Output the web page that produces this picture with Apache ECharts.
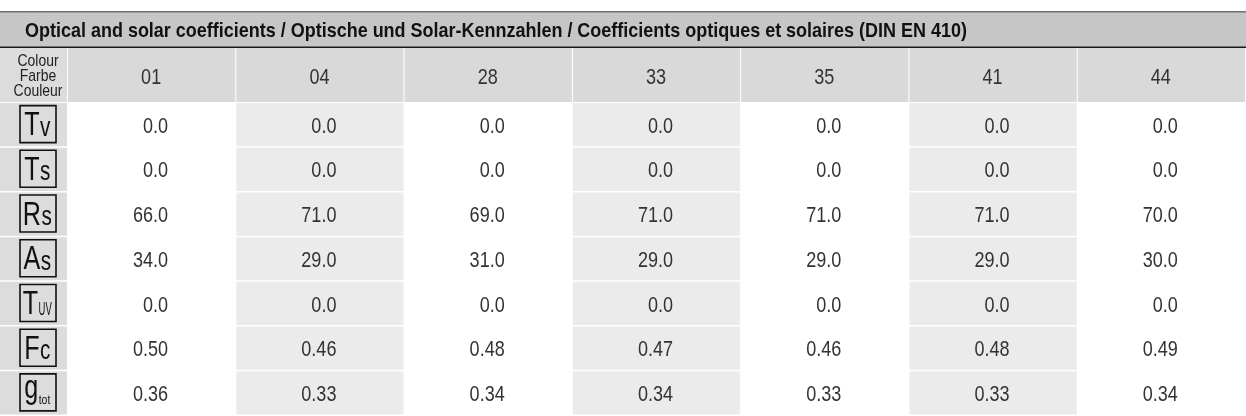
<!DOCTYPE html>
<html><head><meta charset="utf-8">
<script src="https://cdn.jsdelivr.net/npm/echarts@6/dist/echarts.min.js"></script>
<style>html,body{margin:0;padding:0;background:#fff}#c{width:1246px;height:416px}</style>
</head><body><div id="c"></div>
<script>
// ---- data ----
const titleText = 'Optical and solar coefficients / Optische und Solar-Kennzahlen / Coefficients optiques et solaires (DIN EN 410)';
const cornerLabel = 'Colour\nFarbe\nCouleur';
const colours = ['01', '04', '28', '33', '35', '41', '44'];
const symbolMain = ['T', 'T', 'R', 'A', 'T', 'F', 'g'];
const symbolSub = ['v', 's', 's', 's', 'UV', 'c', 'tot'];
const decimals = [1, 1, 1, 1, 1, 2, 2];
const rowTv = [0.0, 0.0, 0.0, 0.0, 0.0, 0.0, 0.0];
const rowTs = [0.0, 0.0, 0.0, 0.0, 0.0, 0.0, 0.0];
const rowRs = [66.0, 71.0, 69.0, 71.0, 71.0, 71.0, 70.0];
const rowAs = [34.0, 29.0, 31.0, 29.0, 29.0, 29.0, 30.0];
const rowTuv = [0.0, 0.0, 0.0, 0.0, 0.0, 0.0, 0.0];
const rowFc = [0.50, 0.46, 0.48, 0.47, 0.46, 0.48, 0.49];
const rowGtot = [0.36, 0.33, 0.34, 0.34, 0.33, 0.33, 0.34];
const rows = [rowTv, rowTs, rowRs, rowAs, rowTuv, rowFc, rowGtot];

// ---- styles ----
const FONT = "'Liberation Sans',Arial,sans-serif";
const NARROW = 0.82;      // horizontal squeeze to imitate a condensed face
const SYM_NARROW = 0.74;
const K = 0.346;
const mctx = document.createElement('canvas').getContext('2d');
function textWidth(t, size, weight) { mctx.font = (weight || 'normal') + ' ' + size + 'px ' + FONT; return mctx.measureText(t).width; }
const mainSize = 34;
const subSizes = { v: 28, s: 28, UV: 19, c: 28, tot: 13 };
const subScale = { v: 0.74, s: 0.74, UV: 0.5, c: 0.74, tot: 0.8 };

const rowIdx = rows.map((_, i) => String(i));
const bodyData = [];
rows.forEach((r, ri) => r.forEach((v, ci) => bodyData.push([ci, ri, v])));

function hidden(type, gi, data, inverse) {
  return { type: type, gridIndex: gi, data: data, show: false, inverse: !!inverse };
}
function narrowText(x, y, sx, style) {
  return { type: 'text', x: x, y: y, scaleX: sx, style: Object.assign({ x: 0, y: 0, fontFamily: FONT }, style) };
}

const option = {
  animation: false,
  backgroundColor: '#fff',
  graphic: [
    { type: 'rect', left: 0, top: 12, z: 0, silent: true, shape: { width: 1246, height: 36 }, style: { fill: '#c6c6c6' } },
    { type: 'rect', left: 0, top: 11, z: 1, silent: true, shape: { width: 1246, height: 1.5 }, style: { fill: '#6f6f6f' } },
    { type: 'rect', left: 0, top: 46.5, z: 1, silent: true, shape: { width: 1246, height: 1.5 }, style: { fill: '#1a1a1a' } },
    { type: 'text', x: 25, y: 31, scaleX: 0.856, z: 2, silent: true,
      style: { text: titleText, x: 0, y: 0, align: 'left', verticalAlign: 'middle', fontFamily: FONT, fontSize: 21, fontWeight: 'bold', fill: '#111' } }
  ],
  grid: [
    { left: 0, top: 48, width: 68, height: 55 },
    { left: 68, top: 48, width: 1178, height: 55 },
    { left: 0, top: 103, width: 68, height: 315 },
    { left: 68, top: 103, width: 1178, height: 315 }
  ],
  xAxis: [
    hidden('category', 0, ['c']),
    hidden('category', 1, colours),
    hidden('category', 2, ['c']),
    hidden('category', 3, colours)
  ],
  yAxis: [
    hidden('category', 0, ['h']),
    hidden('category', 1, ['h']),
    hidden('category', 2, rowIdx, true),
    hidden('category', 3, rowIdx, true)
  ],
  series: [
    {
      type: 'custom', xAxisIndex: 0, yAxisIndex: 0, data: [[0, 0]],
      renderItem: function (params, api) {
        const p = api.coord([api.value(0), api.value(1)]);
        const s = api.size([1, 1]);
        return { type: 'group', children: [
          { type: 'rect', shape: { x: p[0] - s[0] / 2, y: p[1] - s[1] / 2, width: s[0] - 1, height: s[1] - 1 }, style: { fill: '#dcdcdc' } },
          narrowText(p[0] + 4, p[1] + 1, NARROW, { text: cornerLabel, align: 'center', verticalAlign: 'middle', fontSize: 17, lineHeight: 15, fill: '#222' })
        ] };
      }
    },
    {
      type: 'custom', xAxisIndex: 1, yAxisIndex: 1, data: colours.map((c, i) => [i, 0]),
      renderItem: function (params, api) {
        const p = api.coord([api.value(0), api.value(1)]);
        const s = api.size([1, 1]);
        return { type: 'group', children: [
          { type: 'rect', shape: { x: p[0] - s[0] / 2, y: p[1] - s[1] / 2, width: s[0] - 1, height: s[1] - 1 }, style: { fill: '#d9d9d9' } },
          narrowText(p[0] - 1, p[1] + 2, NARROW, { text: colours[params.dataIndex], align: 'center', verticalAlign: 'middle', fontSize: 22, fill: '#333' })
        ] };
      }
    },
    {
      type: 'custom', xAxisIndex: 2, yAxisIndex: 2, data: rows.map((r, i) => [0, i]),
      renderItem: function (params, api) {
        const i = params.dataIndex;
        const p = api.coord([api.value(0), api.value(1)]);
        const s = api.size([1, 1]);
        const top = p[1] - s[1] / 2;
        const cellH = s[1] - 1.5;
        const bx = p[0] + 4, by = top + cellH / 2 - 0.5;
        const main = symbolMain[i], sub = symbolSub[i];
        const ss = subSizes[sub], sk = subScale[sub];
        const wM = textWidth(main, mainSize) * SYM_NARROW, wS = textWidth(sub, ss) * sk;
        const x0 = bx - (wM + wS) / 2 - 1;
        const baseMain = main === 'g' ? by + 8 : by + 13.5;
        const baseSub = sub === 'tot' ? by + 13 : baseMain;
        return { type: 'group', children: [
          { type: 'rect', shape: { x: p[0] - s[0] / 2, y: top, width: s[0] - 1, height: cellH }, style: { fill: '#dcdcdc' } },
          { type: 'rect', shape: { x: bx - 18, y: by - 18.5, width: 36, height: 37 }, style: { fill: 'none', stroke: '#111', lineWidth: 1.6 } },
          narrowText(x0, baseMain - K * mainSize, SYM_NARROW, { text: main, align: 'left', verticalAlign: 'middle', fontSize: mainSize, fill: '#111' }),
          narrowText(x0 + wM + 0.5, baseSub - K * ss, sk, { text: sub, align: 'left', verticalAlign: 'middle', fontSize: ss, fill: '#111' })
        ] };
      }
    },
    {
      type: 'custom', xAxisIndex: 3, yAxisIndex: 3, data: bodyData,
      renderItem: function (params, api) {
        const ci = api.value(0), ri = api.value(1), v = api.value(2);
        const p = api.coord([ci, ri]);
        const s = api.size([1, 1]);
        const top = p[1] - s[1] / 2;
        const cellH = s[1] - 1.5;
        return { type: 'group', children: [
          { type: 'rect', shape: { x: p[0] - s[0] / 2, y: top, width: s[0] - 1, height: cellH }, style: { fill: ci % 2 === 1 ? '#ebebeb' : '#ffffff' } },
          narrowText(p[0] + 16, top + cellH / 2 + 2, NARROW, { text: v.toFixed(decimals[ri]), align: 'right', verticalAlign: 'middle', fontSize: 22, fill: '#333' })
        ] };
      }
    }
  ]
};
const chart = echarts.init(document.getElementById('c'), null, { renderer: 'canvas' });
chart.setOption(option);
</script>
</body></html>
